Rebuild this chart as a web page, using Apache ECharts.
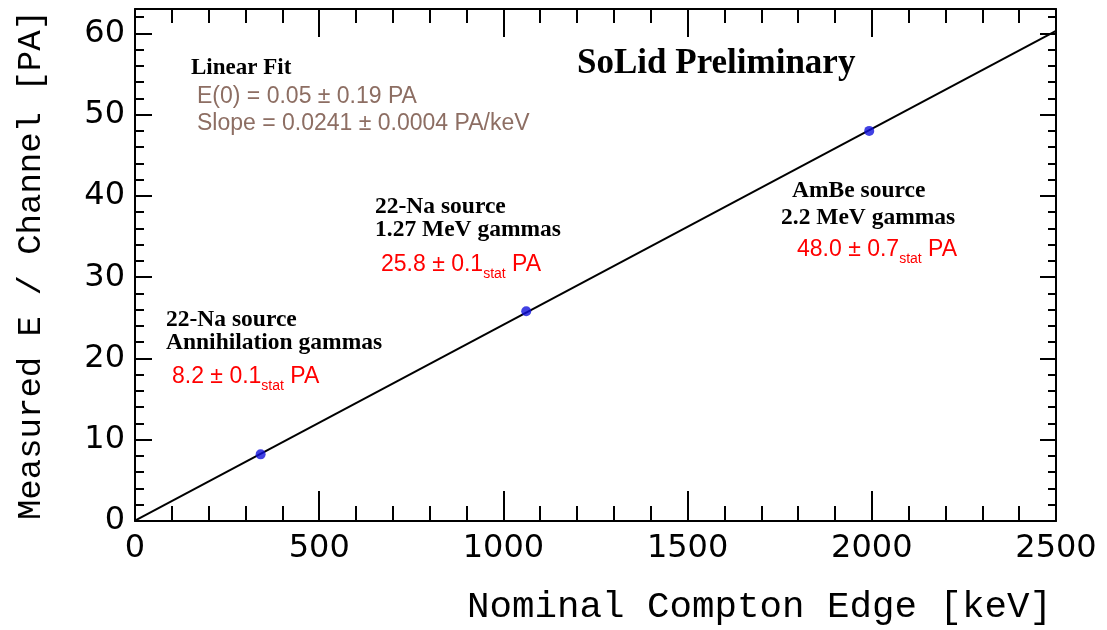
<!DOCTYPE html>
<html>
<head>
<meta charset="utf-8">
<script src="https://cdn.jsdelivr.net/npm/echarts@6/dist/echarts.min.js"></script>
<style>
html, body { margin: 0; padding: 0; background: #fff; }
#chart { width: 1107px; height: 630px; }
</style>
</head>
<body>
<div id="chart"></div>
<script>
// compton edge points
const edgeKeV = [341, 1062, 1993]
const measuredPA = [8.2, 25.8, 48.0]
// linear fit end points
const fitKeV = [0, 2500]
const fitPA = [0.05, 60.3]

const xTicks = [0, 500, 1000, 1500, 2000, 2500]
const yTicks = [0, 10, 20, 30, 40, 50, 60]

const xMax = 2500
const yMax = 63

const chartDom = document.getElementById('chart')
const myChart = echarts.init(chartDom)

const tickFont = { fontFamily: 'DejaVu Sans', fontSize: 32, color: '#000' }
const serifBold = { fontFamily: 'Liberation Serif', fontWeight: 'bold', fontSize: 23.5, fill: '#000' }
const lineStyle = { color: '#000', width: 2 }

// bottom/left carry the labels, top/right only mirror the ticks
const makeX = (pos, major, minor, label) => ({
    type: 'value', position: pos, min: 0, max: xMax, interval: 500,
    axisLine: { show: true, onZero: false, lineStyle },
    axisTick: { show: true, inside: true, length: major, lineStyle },
    minorTick: { show: true, splitNumber: 5, length: minor, lineStyle },
    axisLabel: {
        show: label, margin: 12, ...tickFont,
        formatter: (v) => xTicks.includes(v) ? String(v) : ''
    },
    splitLine: { show: false }
})
const makeY = (pos, major, minor, label) => ({
    type: 'value', position: pos, min: 0, max: yMax, interval: 10,
    axisLine: { show: true, onZero: false, lineStyle },
    axisTick: { show: true, inside: true, length: major, lineStyle },
    minorTick: { show: true, splitNumber: 5, length: minor, lineStyle },
    axisLabel: {
        show: label, margin: 10, ...tickFont,
        formatter: (v) => yTicks.includes(v) ? String(v) : ''
    },
    splitLine: { show: false }
})

const redRich = {
    v: { fontFamily: 'Liberation Sans', fontSize: 23, fill: '#ff0000', lineHeight: 32, verticalAlign: 'middle' },
    s: { fontFamily: 'Liberation Sans', fontSize: 14, fill: '#ff0000', lineHeight: 14, verticalAlign: 'bottom' }
}
const label = (x, y, text, style) => ({
    type: 'text', x: x, y: y,
    style: { text: text, verticalAlign: 'middle', ...style }
})
const redLabel = (x, y, main) => ({
    type: 'text', x: x, y: y,
    style: { text: `{v|${main}}{s|stat}{v| PA}`, rich: redRich, verticalAlign: 'middle' }
})
const brown = { fontFamily: 'Liberation Sans', fontSize: 23, fill: '#8d6e63' }

const option = {
    animation: false,
    backgroundColor: '#fff',
    grid: { left: 135, right: 51, top: 9, bottom: 109 },
    xAxis: [
        makeX('bottom', 30, 15, true),
        makeX('top', 28, 14, false)
    ],
    yAxis: [
        makeY('left', 17, 9, true),
        makeY('right', 16, 8, false)
    ],
    series: [
        {
            type: 'line',
            data: fitKeV.map((x, i) => [x, fitPA[i]]),
            showSymbol: false,
            lineStyle: { color: '#000', width: 2 },
            silent: true
        },
        {
            type: 'scatter',
            data: edgeKeV.map((x, i) => [x, measuredPA[i]]),
            symbolSize: 10,
            itemStyle: { color: '#1212dc' },
            z: 5
        }
    ],
    graphic: [
        label(1052, 607, 'Nominal Compton Edge [keV]',
            { fontFamily: 'Liberation Mono', fontSize: 37.5, fill: '#000', align: 'right' }),
        {
            type: 'text', x: 31, y: 265, rotation: Math.PI / 2,
            style: {
                text: 'Measured E / Channel [PA]', align: 'center', verticalAlign: 'middle',
                fontFamily: 'Liberation Mono', fontSize: 34, fill: '#000'
            }
        },
        label(577, 64, 'SoLid Preliminary', { ...serifBold, fontSize: 35 }),
        label(191, 68, 'Linear Fit', { ...serifBold, fontSize: 23 }),
        label(197, 97, 'E(0) = 0.05 ± 0.19 PA', brown),
        label(197, 124, 'Slope = 0.0241 ± 0.0004 PA/keV', brown),
        label(375, 207, '22-Na source', serifBold),
        label(375, 230, '1.27 MeV gammas', serifBold),
        redLabel(381, 265, '25.8 ± 0.1'),
        label(166, 320, '22-Na source', serifBold),
        label(166, 343, 'Annihilation gammas', serifBold),
        redLabel(172, 377, '8.2 ± 0.1'),
        label(792, 191, 'AmBe source', serifBold),
        label(781, 218, '2.2 MeV gammas', serifBold),
        redLabel(797, 250, '48.0 ± 0.7')
    ]
}

myChart.setOption(option)
window.onresize = () => {
    myChart.resize()
}
</script>
</body>
</html>
